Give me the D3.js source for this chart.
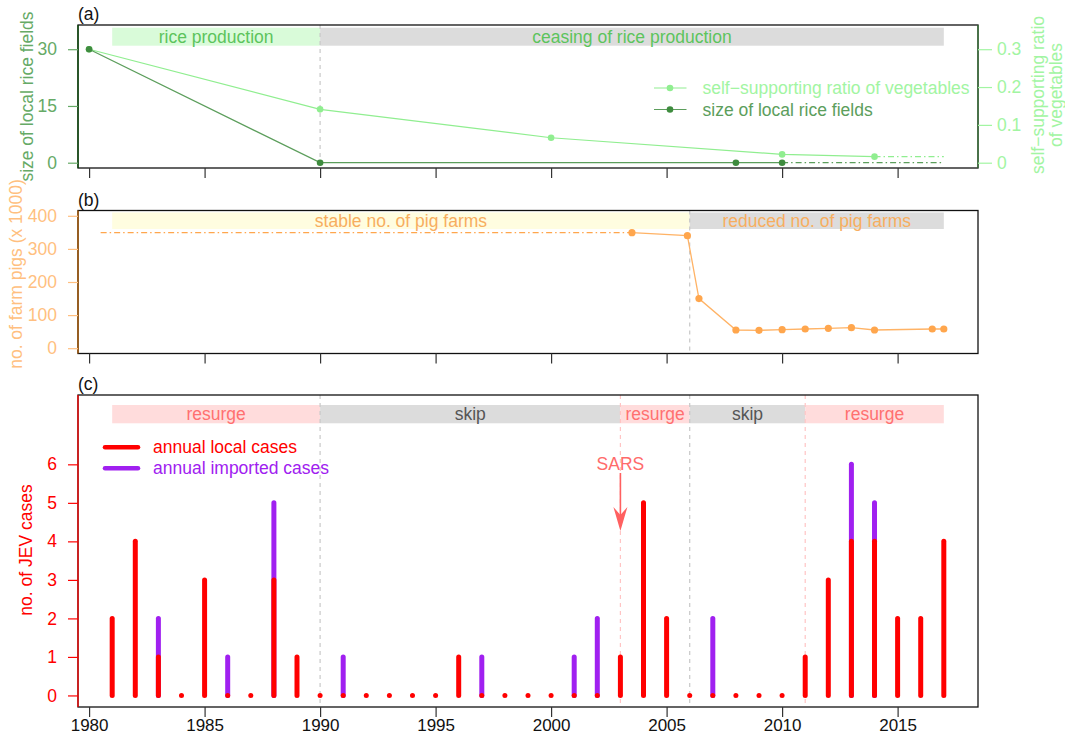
<!DOCTYPE html>
<html>
<head>
<meta charset="utf-8">
<script src="https://cdn.jsdelivr.net/npm/d3@7"></script>
<style>
body { margin: 0; background: #fff; }
text { font-family: "Liberation Sans", Arial, Helvetica, sans-serif; }
</style>
</head>
<body>
<svg id="chart"></svg>
<script>
// ---- data ----
let xTicks = [1980, 1985, 1990, 1995, 2000, 2005, 2010, 2015];

// (a) rice fields / vegetables
let riceYears = [1980, 1990, 2008, 2010];
let riceSize = [30, 0, 0, 0];
let riceProjected = [2010, 2017];
let vegYears = [1980, 1990, 2000, 2010, 2014];
let vegRatio = [0.30, 0.141, 0.066, 0.022, 0.016];
let vegProjected = [2014, 2017];
let riceBandEdges = [1981, 1990, 2017];
let riceBandKinds = ['on', 'off'];
let riceBandLabels = ['rice production', 'ceasing of rice production'];
let riceTicksLeft = [0, 15, 30];
let riceTicksRight = [0, 0.1, 0.2, 0.3];

// (b) farm pigs
let pigYears = [2003.5, 2005.9, 2006.4, 2008, 2009, 2010, 2011, 2012, 2013, 2014, 2016.5, 2017];
let pigCount = [349, 340, 150, 55, 54, 56, 58, 60, 62, 55, 58, 58];
let pigProjected = [1980.5, 2003.5];
let pigBandEdges = [1981, 2006, 2017];
let pigBandKinds = ['on', 'off'];
let pigBandLabels = ['stable no. of pig farms', 'reduced no. of pig farms'];
let pigTicks = [0, 100, 200, 300, 400];

// (c) JEV cases
let caseYears = [1981, 1982, 1983, 1984, 1985, 1986, 1987, 1988, 1989, 1990,
                 1991, 1992, 1993, 1994, 1995, 1996, 1997, 1998, 1999, 2000,
                 2001, 2002, 2003, 2004, 2005, 2006, 2007, 2008, 2009, 2010,
                 2011, 2012, 2013, 2014, 2015, 2016, 2017];
let localCases = [2, 4, 1, 0, 3, 0, 0, 3, 1, 0,
                  0, 0, 0, 0, 0, 1, 0, 0, 0, 0,
                  0, 0, 1, 5, 2, 0, 0, 0, 0, 0,
                  1, 3, 4, 4, 2, 2, 4];
let importedCases = [0, 0, 1, 0, 0, 1, 0, 2, 0, 0,
                     1, 0, 0, 0, 0, 0, 1, 0, 0, 0,
                     1, 2, 0, 0, 0, 0, 2, 0, 0, 0,
                     0, 0, 2, 1, 0, 0, 0];
let jevBandEdges = [1981, 1990, 2003, 2006, 2011, 2017];
let jevBandKinds = ['resurge', 'skip', 'resurge', 'skip', 'resurge'];
let jevTicks = [0, 1, 2, 3, 4, 5, 6];
let sarsYear = 2003;

// ---- layout ----
let width = 1065, height = 735;
let left = 78, right = 978;
let panelA = { top: 25, bottom: 168 };
let panelB = { top: 210.5, bottom: 353.5 };
let panelC = { top: 395, bottom: 707 };
let font = 17.5;

let svg = d3.select('#chart')
    .attr('width', width)
    .attr('height', height);

let x = d3.scaleLinear().domain([1979.52, 2018.48]).range([left, right]);
let yA = d3.scaleLinear().domain([-1.4, 36.4]).range([panelA.bottom, panelA.top]);
let yA2 = d3.scaleLinear().domain([-0.014, 0.364]).range([panelA.bottom, panelA.top]);
let yB = d3.scaleLinear().domain([-16, 416]).range([panelB.bottom, panelB.top]);
let yC = d3.scaleLinear().domain([-0.3, 7.8]).range([panelC.bottom, panelC.top]);

let bandFill = { on: '#d9fbd9', off: '#dcdcdc', resurge: '#ffdcdc', skip: '#dcdcdc' };
let lineFor = { off: '#c8c8c8', skip: '#c8c8c8', resurge: '#ffc4c4' };

function bands(panel, edges, kinds, labels, yOff, h, fill, textColor) {
    let g = svg.append('g');
    kinds.forEach(function (k, i) {
        g.append('rect')
            .attr('x', x(edges[i]))
            .attr('y', panel.top + yOff)
            .attr('width', x(edges[i + 1]) - x(edges[i]))
            .attr('height', h)
            .attr('fill', fill[k]);
        g.append('text')
            .attr('x', (x(edges[i]) + x(edges[i + 1])) / 2)
            .attr('y', panel.top + yOff + h / 2)
            .attr('dy', '0.35em')
            .attr('text-anchor', 'middle')
            .attr('font-size', font)
            .attr('fill', textColor(k))
            .text(labels[i]);
    });
    // dashed separators at every change of phase
    kinds.forEach(function (k, i) {
        if (i == 0) return;
        svg.append('line')
            .attr('x1', x(edges[i])).attr('x2', x(edges[i]))
            .attr('y1', panel.top).attr('y2', panel.bottom)
            .attr('stroke', lineFor[k])
            .attr('stroke-width', 1.2)
            .attr('stroke-dasharray', '4,4');
    });
}

function box(panel, edgeColor) {
    svg.append('rect')
        .attr('x', left)
        .attr('y', panel.top)
        .attr('width', right - left)
        .attr('height', panel.bottom - panel.top)
        .attr('fill', 'none')
        .attr('stroke', '#111')
        .attr('stroke-width', 1.3);
    svg.append('line')
        .attr('x1', left).attr('x2', left)
        .attr('y1', panel.top).attr('y2', panel.bottom)
        .attr('stroke', edgeColor)
        .attr('stroke-width', 1.3);
}

function xAxis(panel, labels) {
    let ax = svg.append('g')
        .attr('transform', `translate(0,${panel.bottom})`)
        .call(d3.axisBottom(x).tickValues(xTicks).tickSize(10).tickPadding(2)
            .tickFormat(labels ? d3.format('d') : ''));
    ax.select('.domain').remove();
    ax.selectAll('line').attr('stroke', '#333').attr('stroke-width', 1.2);
    ax.selectAll('text').attr('font-size', 17).attr('fill', '#111')
        .attr('font-family', '"Liberation Sans", Arial, sans-serif');
}

function yAxis(scale, ticks, color, side, fmt) {
    let a = side == 'left' ? d3.axisLeft(scale) : d3.axisRight(scale);
    let ax = svg.append('g')
        .attr('transform', `translate(${side == 'left' ? left : right},0)`)
        .call(a.tickValues(ticks).tickSize(side == 'left' ? 10 : 14).tickPadding(side == 'left' ? 11 : 5)
            .tickFormat(fmt || d3.format('d')));
    ax.select('.domain').remove();
    ax.selectAll('line').attr('stroke', color).attr('stroke-width', 1.2);
    ax.selectAll('text').attr('font-size', font).attr('fill', color)
        .attr('font-family', '"Liberation Sans", Arial, sans-serif');
}

function yTitle(xPos, yPos, color, label) {
    svg.append('text')
        .attr('transform', `translate(${xPos},${yPos}) rotate(-90)`)
        .attr('text-anchor', 'middle')
        .attr('dy', '0.35em')
        .attr('font-size', font)
        .attr('fill', color)
        .text(label);
}

function panelTag(panel, label) {
    svg.append('text')
        .attr('x', left)
        .attr('y', panel.top - 5)
        .attr('font-size', font)
        .attr('fill', '#111')
        .text(label);
}

// ================= Panel (a) =================
let riceDark = '#5c9e5c';
let ricePoint = '#3f8c3f';
let vegLight = '#90ee90';
let vegText = '#a2f5a2';

bands(panelA, riceBandEdges, riceBandKinds, riceBandLabels, 2.7, 18, bandFill,
    function () { return '#5cc45c'; });

// vegetables ratio
let vegLine = d3.line().x(d => x(d[0])).y(d => yA2(d[1]));
let vegPts = vegYears.map((yr, i) => [yr, vegRatio[i]]);
svg.append('path')
    .attr('d', vegLine(vegPts))
    .attr('fill', 'none')
    .attr('stroke', vegLight)
    .attr('stroke-width', 1.2);
svg.append('path')
    .attr('d', vegLine(vegProjected.map(yr => [yr, vegRatio[vegRatio.length - 1]])))
    .attr('fill', 'none')
    .attr('stroke', vegLight)
    .attr('stroke-width', 1.2)
    .attr('stroke-dasharray', '6,3,1.5,3');
svg.selectAll('.vegpt')
    .data(vegPts)
    .enter()
    .append('circle')
    .attr('cx', d => x(d[0]))
    .attr('cy', d => yA2(d[1]))
    .attr('r', 3.3)
    .attr('fill', vegLight);

// rice fields
let riceLine = d3.line().x(d => x(d[0])).y(d => yA(d[1]));
let ricePts = riceYears.map((yr, i) => [yr, riceSize[i]]);
svg.append('path')
    .attr('d', riceLine(ricePts))
    .attr('fill', 'none')
    .attr('stroke', riceDark)
    .attr('stroke-width', 1.3);
svg.append('path')
    .attr('d', riceLine(riceProjected.map(yr => [yr, riceSize[riceSize.length - 1]])))
    .attr('fill', 'none')
    .attr('stroke', riceDark)
    .attr('stroke-width', 1.3)
    .attr('stroke-dasharray', '6,3,1.5,3');
svg.selectAll('.ricept')
    .data(ricePts)
    .enter()
    .append('circle')
    .attr('cx', d => x(d[0]))
    .attr('cy', d => yA(d[1]))
    .attr('r', 3.3)
    .attr('fill', ricePoint);

// legend (a)
let legA = [[vegLight, vegLight, vegText, 'self\u2212supporting ratio of vegetables'],
            [riceDark, ricePoint, riceDark, 'size of local rice fields']];
legA.forEach(function (d, i) {
    let yy = 88 + i * 21.5;
    svg.append('line').attr('x1', 654).attr('x2', 686.5).attr('y1', yy).attr('y2', yy)
        .attr('stroke', d[0]).attr('stroke-width', 1.2);
    svg.append('circle').attr('cx', 670).attr('cy', yy).attr('r', 3.3).attr('fill', d[1]);
    svg.append('text').attr('x', 702.5).attr('y', yy).attr('dy', '0.35em')
        .attr('font-size', font).attr('fill', d[2]).text(d[3]);
});

box(panelA, '#0b4f0b');
svg.append('line')
    .attr('x1', right).attr('x2', right)
    .attr('y1', panelA.top).attr('y2', panelA.bottom)
    .attr('stroke', '#3d7a3d').attr('stroke-width', 1.3);
xAxis(panelA, false);
yAxis(yA, riceTicksLeft, '#66aa66', 'left');
yAxis(yA2, riceTicksRight, vegText, 'right', d => d == 0 ? '0' : d3.format('.1f')(d));
yTitle(27, (panelA.top + panelA.bottom) / 2, '#66aa66', 'size of local rice fields');
yTitle(1038, 95, vegText, 'self\u2212supporting ratio');
yTitle(1056, 95, vegText, 'of vegetables');
panelTag(panelA, '(a)');

// ================= Panel (b) =================
let pigColor = '#ffb366';
let pigPoint = '#ffa64d';
bands(panelB, pigBandEdges, pigBandKinds, pigBandLabels, 2, 16.5,
    { on: '#fffde0', off: '#dcdcdc' },
    function () { return '#f7ae5f'; });

let pigLine = d3.line().x(d => x(d[0])).y(d => yB(d[1]));
let pigPts = pigYears.map((yr, i) => [yr, pigCount[i]]);
svg.append('path')
    .attr('d', pigLine(pigProjected.map(yr => [yr, pigCount[0]])))
    .attr('fill', 'none')
    .attr('stroke', pigPoint)
    .attr('stroke-width', 1.2)
    .attr('stroke-dasharray', '6,3,1.5,3');
svg.append('path')
    .attr('d', pigLine(pigPts))
    .attr('fill', 'none')
    .attr('stroke', pigColor)
    .attr('stroke-width', 1.3);
svg.selectAll('.pigpt')
    .data(pigPts)
    .enter()
    .append('circle')
    .attr('cx', d => x(d[0]))
    .attr('cy', d => yB(d[1]))
    .attr('r', 3.6)
    .attr('fill', pigPoint);

box(panelB, '#b35c00');
xAxis(panelB, false);
yAxis(yB, pigTicks, '#ffbf80', 'left');
yTitle(16, 274, '#ffbf80', 'no. of farm pigs (x 1000)');
panelTag(panelB, '(b)');

// ================= Panel (c) =================
let localColor = '#ff0000';
let importColor = '#a020f0';
bands(panelC, jevBandEdges, jevBandKinds, jevBandKinds, 10, 18.3, bandFill,
    function (k) { return k == 'resurge' ? '#ff7070' : '#555555'; });

// imported cases stacked on top of local cases
svg.selectAll('.imp')
    .data(caseYears.filter((yr, i) => importedCases[i] > 0))
    .enter()
    .append('line')
    .attr('x1', d => x(d)).attr('x2', d => x(d))
    .attr('y1', yC(0))
    .attr('y2', d => yC(localCases[caseYears.indexOf(d)] + importedCases[caseYears.indexOf(d)]))
    .attr('stroke', importColor)
    .attr('stroke-width', 5)
    .attr('stroke-linecap', 'round');
svg.selectAll('.loc')
    .data(caseYears)
    .enter()
    .append('path')
    .attr('d', (d, i) => `M${x(d)},${yC(0)}L${x(d)},${yC(localCases[i])}`)
    .attr('stroke', localColor)
    .attr('stroke-width', 5)
    .attr('stroke-linecap', 'round');

// SARS annotation
let sarsX = x(sarsYear);
svg.append('text')
    .attr('x', sarsX).attr('y', 464).attr('dy', '0.35em')
    .attr('text-anchor', 'middle')
    .attr('font-size', font)
    .attr('fill', '#ff6b6b')
    .text('SARS');
svg.append('line')
    .attr('x1', sarsX).attr('x2', sarsX)
    .attr('y1', 473).attr('y2', 520)
    .attr('stroke', '#ff6060').attr('stroke-width', 1.6);
svg.append('path')
    .attr('d', `M${sarsX},531L${sarsX - 7},507L${sarsX},515L${sarsX + 7},507Z`)
    .attr('fill', '#ff6060');

// legend (c)
[[localColor, 'annual local cases'], [importColor, 'annual imported cases']].forEach(function (d, i) {
    let yy = 447.3 + i * 21;
    svg.append('line').attr('x1', 105).attr('x2', 138).attr('y1', yy).attr('y2', yy)
        .attr('stroke', d[0]).attr('stroke-width', 4.5).attr('stroke-linecap', 'round');
    svg.append('text').attr('x', 153).attr('y', yy).attr('dy', '0.35em')
        .attr('font-size', font).attr('fill', d[0]).text(d[1]);
});

box(panelC, '#ff0000');
xAxis(panelC, true);
yAxis(yC, jevTicks, '#ff0000', 'left');
yTitle(26, (panelC.top + panelC.bottom) / 2 - 1, '#ff0000', 'no. of JEV cases');
panelTag(panelC, '(c)');
</script>
</body>
</html>
